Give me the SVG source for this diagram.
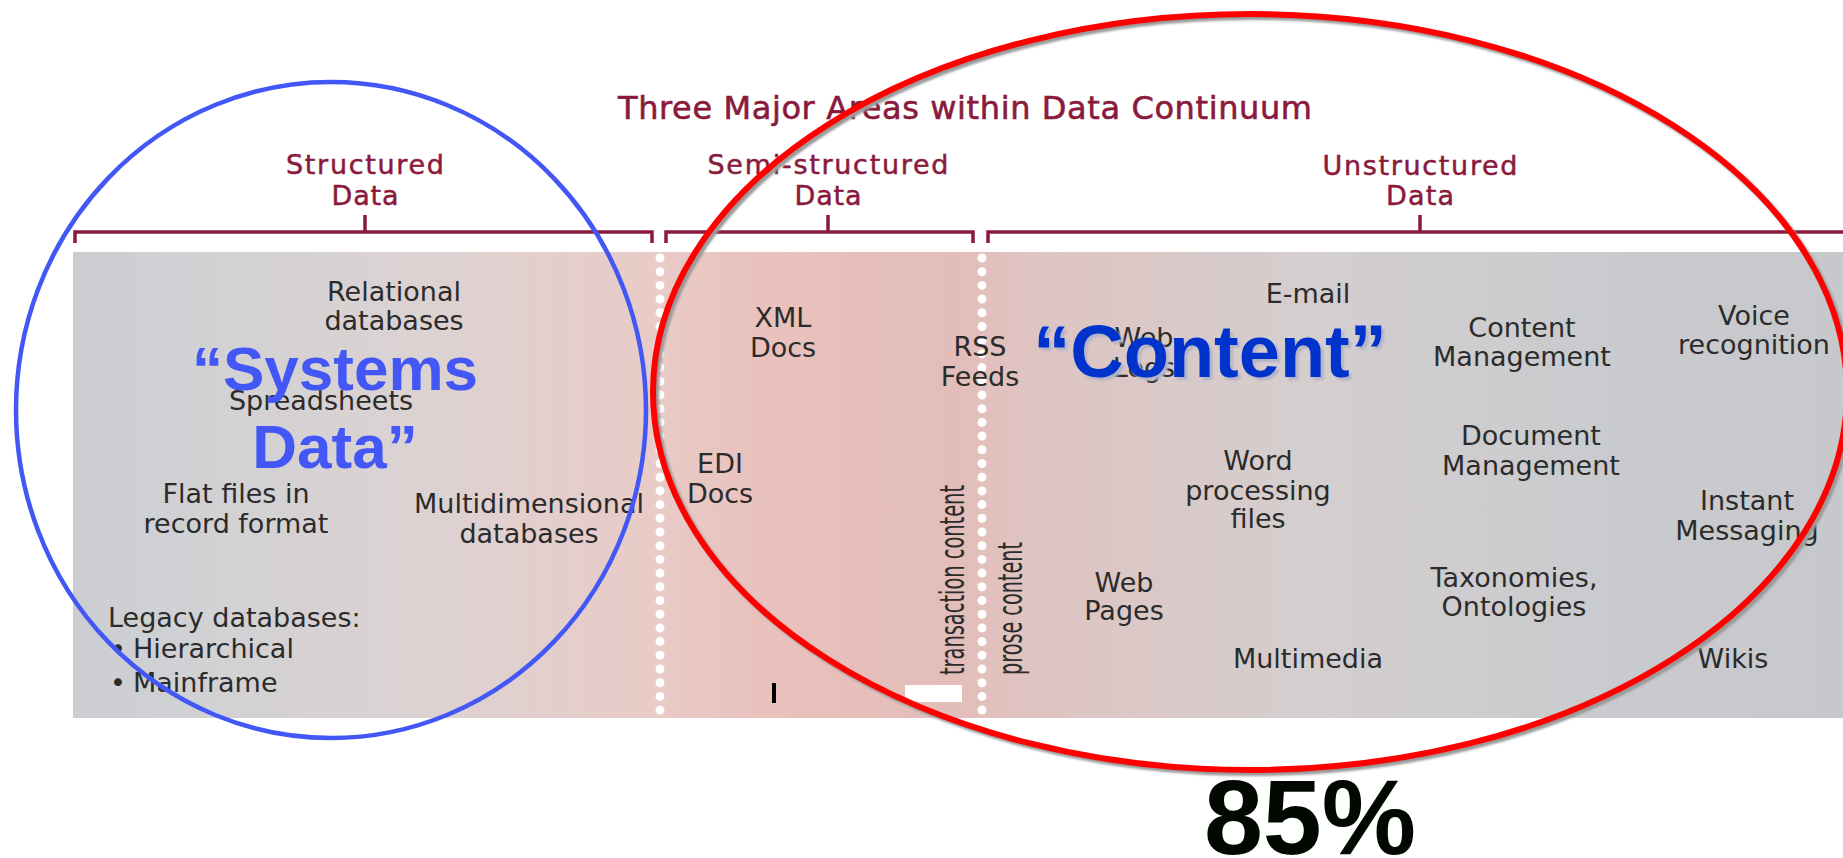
<svg xmlns="http://www.w3.org/2000/svg" width="1843" height="858" viewBox="0 0 1843 858">
<defs>
<linearGradient id="bandGrad" x1="73" y1="0" x2="1843" y2="0" gradientUnits="userSpaceOnUse">
<stop offset="0" stop-color="#cbcdd0"/>
<stop offset="0.06" stop-color="#d0d1d4"/>
<stop offset="0.2" stop-color="#dcd2d2"/>
<stop offset="0.33" stop-color="#e9cbc7"/>
<stop offset="0.39" stop-color="#e9c1bd"/>
<stop offset="0.5" stop-color="#e3bdb9"/>
<stop offset="0.54" stop-color="#dfc4c1"/>
<stop offset="0.7" stop-color="#d4cecf"/>
<stop offset="0.85" stop-color="#cacbce"/>
<stop offset="1" stop-color="#c6c8cb"/>
</linearGradient>
<filter id="soft" x="-10%" y="-10%" width="120%" height="120%">
<feGaussianBlur stdDeviation="1"/>
</filter>
</defs>
<style>
.title{font-family:"DejaVu Sans","Liberation Sans",sans-serif;font-size:32px;fill:#8a1a3c;stroke:#8a1a3c;stroke-width:0.6;text-anchor:middle}
.head{font-family:"DejaVu Sans","Liberation Sans",sans-serif;font-size:27px;fill:#8a1a3c;stroke:#8a1a3c;stroke-width:0.5;text-anchor:middle}
.item{font-family:"DejaVu Sans","Liberation Sans",sans-serif;font-size:27px;fill:#2b2b2b;text-anchor:middle}
.left{text-anchor:start}
.rot{font-family:"DejaVu Sans Condensed","DejaVu Sans",sans-serif;font-size:34px;fill:#2b2b2b}
.brk{fill:none;stroke:#8a1a3c;stroke-width:3.5}
.dots{stroke:#ffffff;stroke-width:9;stroke-linecap:round;stroke-dasharray:0 13.7}
.big{font-family:"Liberation Sans",Arial,sans-serif;font-weight:bold;text-anchor:middle}
</style>
<rect width="1843" height="858" fill="#ffffff"/>

<g id="band">
<rect x="73" y="252" width="1770" height="466" fill="url(#bandGrad)"/>
<line class="dots" x1="660" y1="258" x2="660" y2="714"/>
<line class="dots" x1="982" y1="258" x2="982" y2="714"/>
<rect x="905" y="685" width="57" height="17" fill="#ffffff"/>
<rect x="772" y="683" width="4" height="20" fill="#000000"/>
</g>

<g id="title">
<text class="title" x="965" y="119" textLength="694" lengthAdjust="spacing">Three Major Areas within Data Continuum</text>
</g>

<g id="connectors">
<path class="brk" d="M75 243 V232 H652 V243"/>
<line class="brk" x1="365" y1="215" x2="365" y2="232"/>
<path class="brk" d="M666 243 V232 H973 V243"/>
<line class="brk" x1="828" y1="215" x2="828" y2="232"/>
<path class="brk" d="M988 243 V232 H1845"/>
<line class="brk" x1="1420" y1="215" x2="1420" y2="232"/>
</g>

<g id="head-structured">
<text class="head" x="365" y="174" textLength="158" lengthAdjust="spacing">Structured</text>
<text class="head" x="365" y="205" textLength="67" lengthAdjust="spacing">Data</text>
</g>
<g id="head-semi">
<text class="head" x="828" y="174" textLength="241" lengthAdjust="spacing">Semi-structured</text>
<text class="head" x="828" y="205" textLength="67" lengthAdjust="spacing">Data</text>
</g>
<g id="head-unstructured">
<text class="head" x="1420" y="175" textLength="195" lengthAdjust="spacing">Unstructured</text>
<text class="head" x="1420" y="205" textLength="68" lengthAdjust="spacing">Data</text>
</g>

<g id="relational"><text class="item" x="394" y="301">Relational</text><text class="item" x="394" y="330">databases</text></g>
<g id="spreadsheets"><text class="item" x="321" y="410">Spreadsheets</text></g>
<g id="flatfiles"><text class="item" x="236" y="503">Flat files in</text><text class="item" x="236" y="533">record format</text></g>
<g id="multidimensional"><text class="item" x="529" y="513">Multidimensional</text><text class="item" x="529" y="543">databases</text></g>
<g id="legacy">
<text class="item left" x="108" y="627">Legacy databases:</text>
<text class="item left" x="110" y="658">•</text><text class="item left" x="133" y="658">Hierarchical</text>
<text class="item left" x="110" y="692">•</text><text class="item left" x="133" y="692">Mainframe</text>
</g>

<g id="xml"><text class="item" x="783" y="327">XML</text><text class="item" x="783" y="357">Docs</text></g>
<g id="edi"><text class="item" x="720" y="473">EDI</text><text class="item" x="720" y="503">Docs</text></g>
<g id="rss"><text class="item" x="980" y="356">RSS</text><text class="item" x="980" y="386">Feeds</text></g>
<g id="transaction"><text class="rot" transform="translate(964,675) rotate(-90)" textLength="190" lengthAdjust="spacingAndGlyphs">transaction content</text></g>
<g id="prose"><text class="rot" transform="translate(1022,675) rotate(-90)" textLength="133" lengthAdjust="spacingAndGlyphs">prose content</text></g>

<g id="email"><text class="item" x="1308" y="303">E-mail</text></g>
<g id="weblogs"><text class="item" x="1144" y="347">Web</text><text class="item" x="1144" y="377">Logs</text></g>
<g id="contentmgmt"><text class="item" x="1522" y="337">Content</text><text class="item" x="1522" y="366">Management</text></g>
<g id="voice"><text class="item" x="1754" y="325">Voice</text><text class="item" x="1754" y="354">recognition</text></g>
<g id="docmgmt"><text class="item" x="1531" y="445">Document</text><text class="item" x="1531" y="475">Management</text></g>
<g id="word"><text class="item" x="1258" y="470">Word</text><text class="item" x="1258" y="500">processing</text><text class="item" x="1258" y="528">files</text></g>
<g id="instant"><text class="item" x="1747" y="510">Instant</text><text class="item" x="1747" y="540">Messaging</text></g>
<g id="webpages"><text class="item" x="1124" y="592">Web</text><text class="item" x="1124" y="620">Pages</text></g>
<g id="taxonomies"><text class="item" x="1514" y="587">Taxonomies,</text><text class="item" x="1514" y="616">Ontologies</text></g>
<g id="multimedia"><text class="item" x="1308" y="668">Multimedia</text></g>
<g id="wikis"><text class="item" x="1733" y="668">Wikis</text></g>

<g id="systems-ellipse">
<ellipse cx="331" cy="410" rx="315" ry="328" fill="none" stroke="#4257f5" stroke-width="4.5"/>
</g>
<g id="content-ellipse">
<ellipse cx="1253" cy="395" rx="597" ry="378" fill="none" stroke="#9a9a9a" stroke-width="6" filter="url(#soft)"/>
<ellipse cx="1250" cy="392" rx="597" ry="378" fill="none" stroke="#ff0000" stroke-width="6"/>
</g>

<g id="systems-label">
<text class="big" x="335" y="390" font-size="62" fill="#4257f5">“Systems</text>
<text class="big" x="335" y="468" font-size="62" fill="#4257f5">Data”</text>
</g>
<g id="content-label">
<text class="big" x="1213" y="380" font-size="74" fill="#b4b4c8" filter="url(#soft)">“Content”</text>
<text class="big" x="1210" y="377" font-size="74" fill="#0033cc">“Content”</text>
</g>
<g id="percent">
<text class="big" x="1310" y="854" font-size="106" fill="#000800">85%</text>
</g>
</svg>
